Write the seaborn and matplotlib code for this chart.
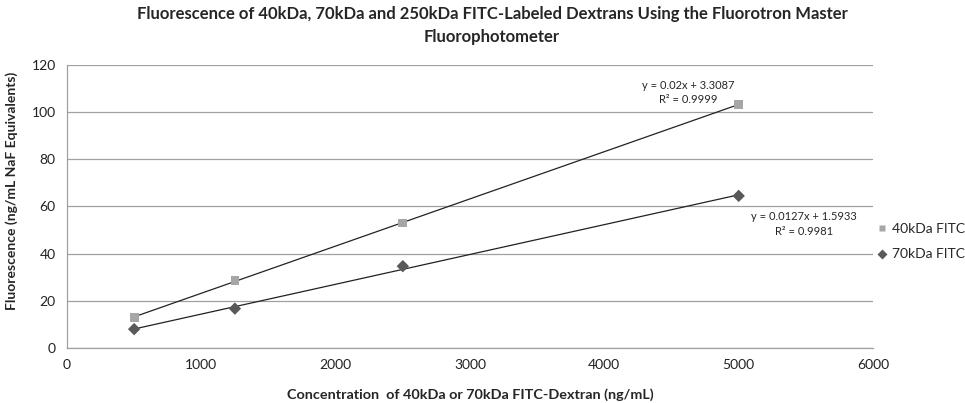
import matplotlib
matplotlib.use('Agg')
import numpy as np
import pandas as pd
import matplotlib.pyplot as plt
import seaborn as sns

# Data
conc = [500, 1250, 2500, 5000]
fluor_40 = [13.0, 28.6, 53.0, 103.3]
fluor_70 = [8.0, 16.7, 34.7, 64.5]
series_names = ['40kDa FITC-Dextran', '70kDa FITC-Dextran']
eq_40 = 'y = 0.02x + 3.3087\nR² = 0.9999'
eq_70 = 'y = 0.0127x + 1.5933\nR² = 0.9981'

df = pd.DataFrame({
    'conc': conc * 2,
    'fluor': fluor_40 + fluor_70,
    'series': [series_names[0]] * 4 + [series_names[1]] * 4,
})

sns.set_style('white')
plt.rcParams['font.family'] = ['Lato', 'DejaVu Sans']

fig = plt.figure(figsize=(9.65, 4.03), dpi=100)
ax = fig.add_axes([0.0694, 0.1365, 0.8353, 0.7022])

# Linear trendlines
for y in [fluor_40, fluor_70]:
    m, b = np.polyfit(conc, y, 1)
    xs = np.array([conc[0], conc[-1]])
    ax.plot(xs, m * xs + b, color='#222222', lw=0.9, zorder=2)

sns.scatterplot(data=df, x='conc', y='fluor', hue='series', style='series',
                palette=['#A6A6A6', '#595959'], markers=['s', 'D'],
                s=40, edgecolor='none', ax=ax, zorder=3, legend=True)

ax.set_xlim(0, 6000)
ax.set_ylim(0, 120)
ax.set_xticks(range(0, 6001, 1000))
ax.set_yticks(range(0, 121, 20))
ax.yaxis.grid(True, color='#A0A0A0', lw=0.9)
ax.xaxis.grid(False)
for s in ['top', 'right']:
    ax.spines[s].set_visible(False)
for s in ['left', 'bottom']:
    ax.spines[s].set_color('#A0A0A0')
    ax.spines[s].set_linewidth(0.9)
ax.tick_params(axis='both', length=0, labelsize=10, colors='#222222', pad=8)

ax.set_xlabel('Concentration  of 40kDa or 70kDa FITC-Dextran (ng/mL)',
              fontsize=10.4, fontweight='bold', va='center')
ax.xaxis.set_label_coords(0.5, -0.166)
ax.set_ylabel('Fluorescence (ng/mL NaF Equivalents)',
              fontsize=10, fontweight='bold', va='center')
ax.yaxis.set_label_coords(-0.068, 0.555)
fig.suptitle('Fluorescence of 40kDa, 70kDa and 250kDa FITC-Labeled Dextrans Using the Fluorotron Master\nFluorophotometer',
             fontsize=12, fontweight='bold', y=0.985, x=0.51, linespacing=1.5)

ax.text(4623, 108.4, eq_40, ha='center', va='center', fontsize=8, linespacing=1.4)
ax.text(5486, 52.6, eq_70, ha='center', va='center', fontsize=8, linespacing=1.4)

handles, labels = ax.get_legend_handles_labels()
ax.get_legend().remove()
fig.legend(handles, labels, loc='center left', bbox_to_anchor=(0.89, 0.40),
           frameon=False, fontsize=10, handletextpad=-0.3, labelspacing=0.95,
           markerscale=0.75, borderpad=0.2)

fig.savefig('out.png', dpi=100)
